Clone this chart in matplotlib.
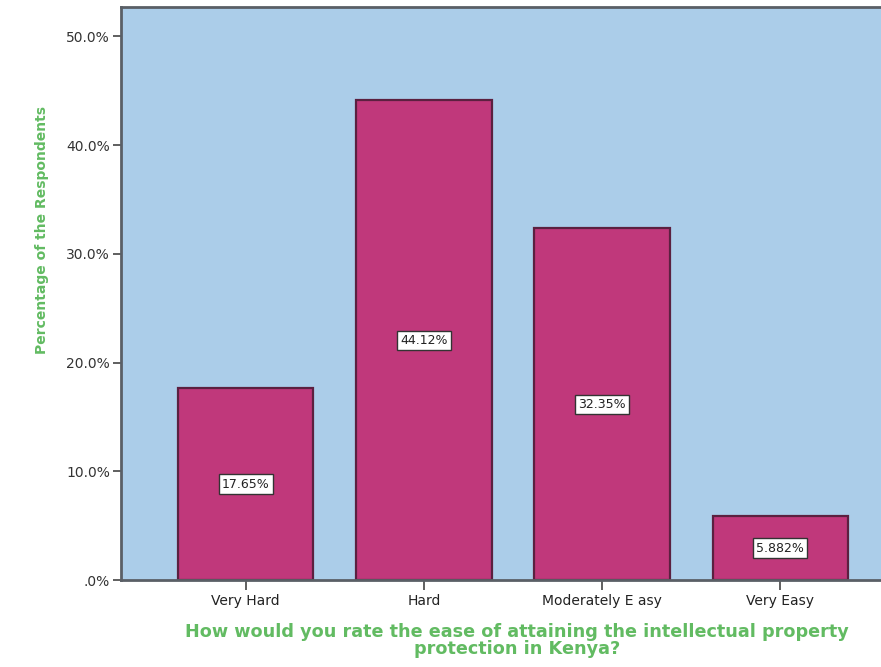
import matplotlib
matplotlib.use("Agg")
import matplotlib.pyplot as plt
from matplotlib.ticker import FixedLocator

categories = ["Very Hard", "Hard", "Moderately E asy", "Very Easy"]
percentages = [17.65, 44.12, 32.35, 5.882]
bar_labels = ["17.65%", "44.12%", "32.35%", "5.882%"]
y_ticks = [0, 10, 20, 30, 40, 50]
y_tick_labels = [".0%", "10.0%", "20.0%", "30.0%", "40.0%", "50.0%"]

plt.rcParams["font.family"] = ["DejaVu Sans"]

fig = plt.figure(figsize=(8.81, 6.67), dpi=100)
fig.patch.set_facecolor("white")
ax = fig.add_axes([121 / 881, 87 / 667, (905 - 121) / 881, (580 - 7) / 667])
ax.set_facecolor("#abcde9")

x = list(range(len(categories)))
ax.bar(x, percentages, width=0.76, color="#c0387b", edgecolor="#5b2040",
       linewidth=1.6, zorder=2)

for xi, val, lab in zip(x, percentages, bar_labels):
    ax.text(xi, val / 2, lab, ha="center", va="center", fontsize=9,
            color="#222222", zorder=3,
            bbox=dict(boxstyle="square,pad=0.25", facecolor="white",
                      edgecolor="#333333", linewidth=1.0))

ax.set_xlim(-0.70, 3.70)
ax.set_ylim(0, 52.7)
ax.yaxis.set_major_locator(FixedLocator(y_ticks))
ax.set_yticklabels(y_tick_labels)
ax.set_xticks(x)
ax.set_xticklabels(categories)

ax.tick_params(axis="y", direction="out", length=6, width=1.2, colors="#444444",
               labelsize=10, labelcolor="#333333", pad=2)
ax.tick_params(axis="x", direction="out", length=7, width=1.2, colors="#444444",
               labelsize=10, labelcolor="#222222", pad=3)

for side in ["left", "bottom", "top"]:
    ax.spines[side].set_color("#5a5f66")
    ax.spines[side].set_linewidth(2.0)
ax.spines["right"].set_visible(False)

ax.set_ylabel("Percentage of the Respondents", fontsize=10, fontweight="bold",
              color="#62bb62")
ax.yaxis.set_label_coords(-(121 - 49) / (905 - 121), (580 - 230) / 573)

ax.set_xlabel("How would you rate the ease of attaining the intellectual property\nprotection in Kenya?",
              fontsize=12.7, fontweight="bold", color="#62bb62",
              linespacing=0.95)
ax.xaxis.set_label_coords((517 - 121) / (905 - 121), -(623 - 580) / 573)
ax.xaxis.label.set_va("top")

fig.savefig("out.png", dpi=100, facecolor="white")
